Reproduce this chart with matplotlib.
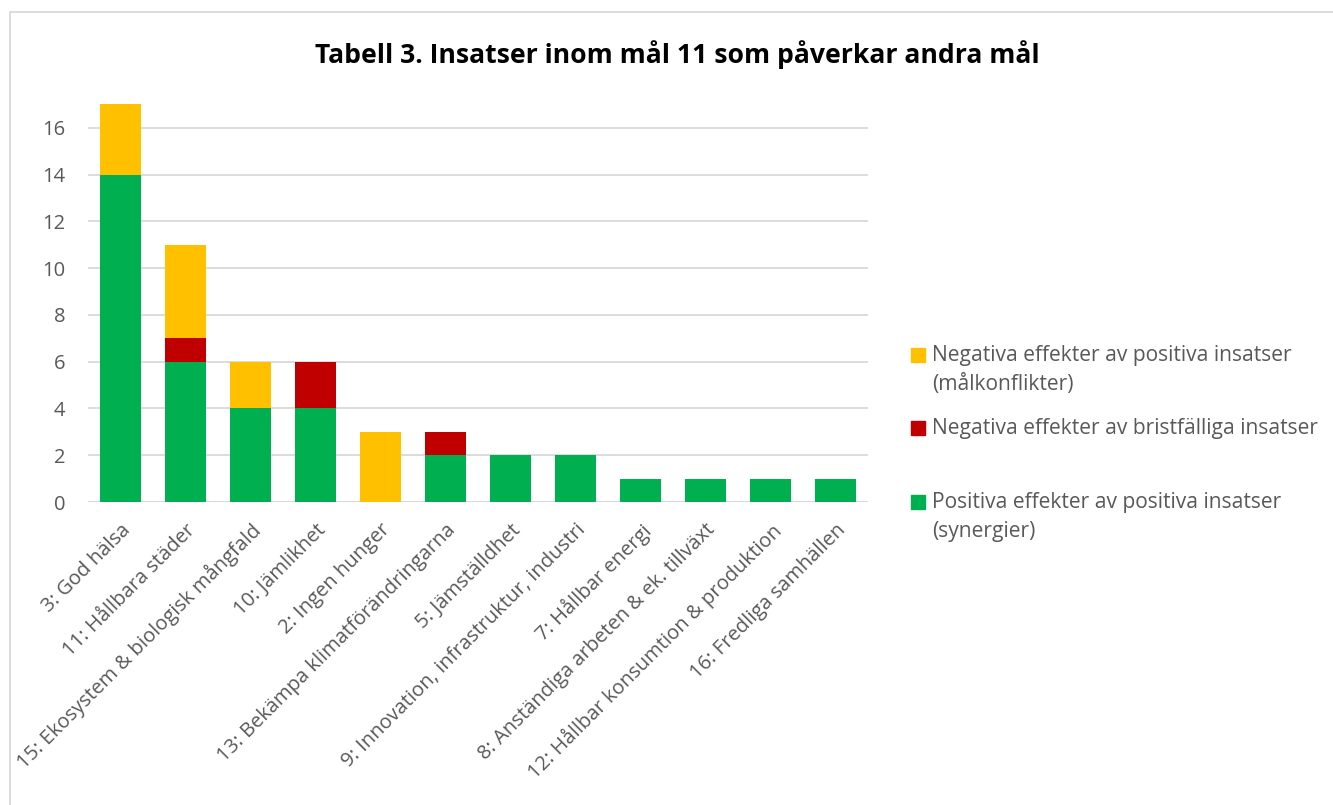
import numpy as np
import matplotlib.pyplot as plt
from matplotlib.patches import Rectangle

plt.rcParams['font.family'] = ['Open Sans', 'DejaVu Sans']

kategorier = ["3: God hälsa", "11: Hållbara städer", "15: Ekosystem & biologisk mångfald",
              "10: Jämlikhet", "2: Ingen hunger", "13: Bekämpa klimatförändringarna",
              "5: Jämställdhet", "9: Innovation, infrastruktur, industri", "7: Hållbar energi",
              "8: Anständiga arbeten & ek. tillväxt", "12: Hållbar konsumtion & produktion",
              "16: Fredliga samhällen"]
synergier = [14, 6, 4, 4, 0, 2, 2, 2, 1, 1, 1, 1]
bristfalliga = [0, 1, 0, 2, 0, 1, 0, 0, 0, 0, 0, 0]
malkonflikter = [3, 4, 2, 0, 3, 0, 0, 0, 0, 0, 0, 0]

etiketter = ["Negativa effekter av positiva insatser\n(målkonflikter)",
             "Negativa effekter av bristfälliga insatser",
             "Positiva effekter av positiva insatser\n(synergier)"]
farger = ["#FFC000", "#C00000", "#00B050"]

W, H = 1333, 805
fig = plt.figure(figsize=(W / 100, H / 100), dpi=100)
ax = fig.add_axes([88 / W, 1 - 502 / H, (868 - 88) / W, (502 - 104.5) / H])

x = np.arange(len(kategorier))
g = np.array(synergier)
r = np.array(bristfalliga)
y = np.array(malkonflikter)
ax.bar(x, g, 0.646, color=farger[2], zorder=2)
ax.bar(x, r, 0.646, bottom=g, color=farger[1], zorder=2)
ax.bar(x, y, 0.646, bottom=g + r, color=farger[0], zorder=2)

ax.set_xlim(-0.5, len(kategorier) - 0.5)
ax.set_ylim(0, 17)
ax.set_yticks(range(0, 17, 2))
ax.yaxis.grid(True, color="#D9D9D9", linewidth=1.3, zorder=0)
for s in ax.spines.values():
    s.set_visible(False)
ax.axhline(0, color="#D9D9D9", linewidth=1.3, zorder=1)
ax.tick_params(length=0, labelsize=14.5, labelcolor="#595959")
ax.tick_params(axis='y', pad=16.5)
ax.set_xticks(x)
ax.set_xticklabels(kategorier, rotation=45, ha='right', rotation_mode='anchor')
ax.tick_params(axis='x', pad=13)

fig.text(677 / W, 1 - 55 / H, "Tabell 3. Insatser inom mål 11 som påverkar andra mål",
         ha='center', va='center', fontsize=19.1, fontweight='bold', color='black')

# legend
ys = [355, 428, 502]
for lbl, c, yy in zip(etiketter, farger, ys):
    fig.patches.append(Rectangle((911 / W, 1 - (yy + 7) / H), 14 / W, 14 / H,
                                 transform=fig.transFigure, color=c))
    fig.text(932 / W, 1 - (yy - 10) / H, lbl, ha='left', va='top', fontsize=15.1,
             color="#595959", linespacing=1.51)

# chart border
fig.patches.append(Rectangle((10 / W, -0.1), 1.2, 1 - 12 / H + 0.1, transform=fig.transFigure,
                             fill=False, edgecolor="#D9D9D9", linewidth=1.3))

fig.savefig("out.png", dpi=100)
